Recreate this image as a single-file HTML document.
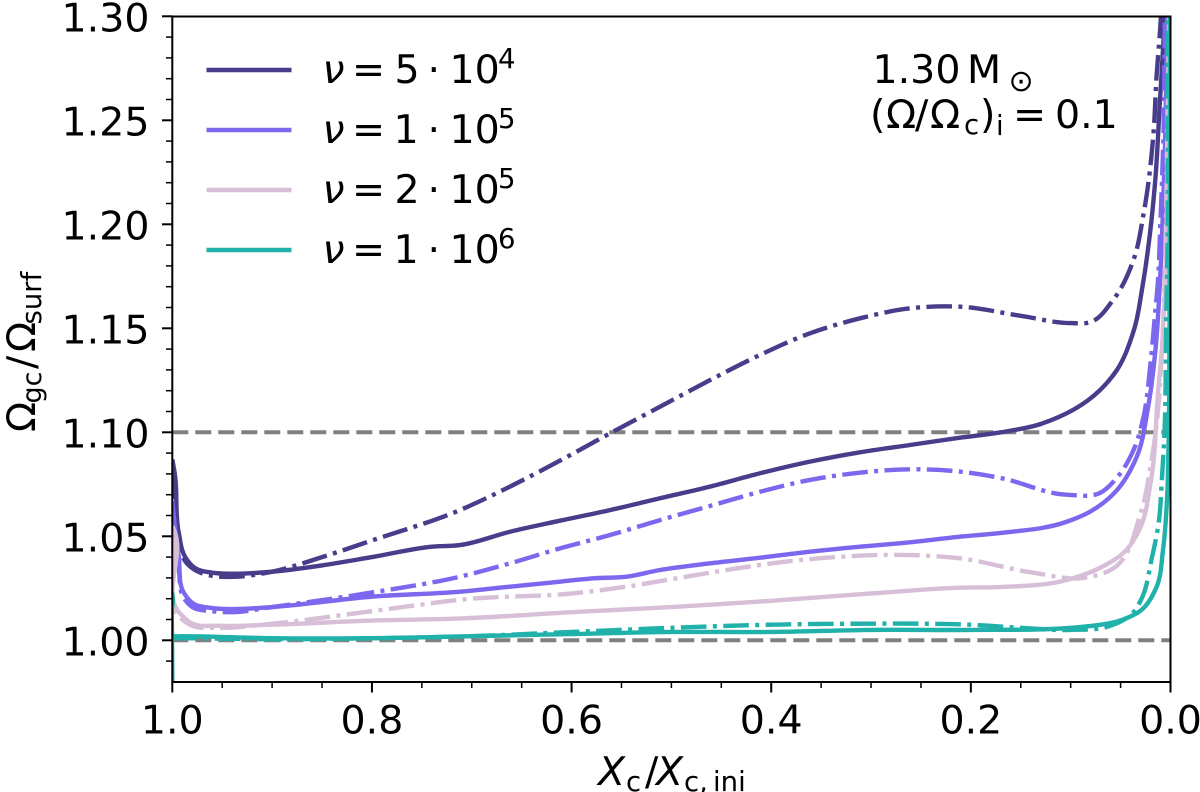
<!DOCTYPE html>
<html>
<head>
<meta charset="utf-8">
<title>Omega ratio chart</title>
<style>
html,body{margin:0;padding:0;background:#fff;width:1200px;height:792px;overflow:hidden}
svg{display:block}
text{font-family:"DejaVu Sans","Liberation Sans",sans-serif;fill:#000}
</style>
</head>
<body>
<svg id="chart" width="1200" height="792" viewBox="0 0 1200 792" xmlns="http://www.w3.org/2000/svg">
  <defs><clipPath id="plot-clip"><rect x="172.3" y="16.5" width="998.2" height="665.5"/></clipPath></defs>
  <g id="hlines" clip-path="url(#plot-clip)"></g>
  <g id="series" clip-path="url(#plot-clip)"></g>
  <g id="axes"></g>
  <g id="labels" font-size="39.5"></g>

  <g id="legend">
    <g font-size="39.5">
      <text y="83"><tspan x="322.5" font-style="italic">ν</tspan><tspan x="352">=</tspan><tspan x="394.5">5</tspan><tspan x="427.5">·</tspan><tspan x="449.5">10</tspan><tspan x="498" y="68" font-size="27.5">4</tspan></text>
      <text y="143"><tspan x="322.5" font-style="italic">ν</tspan><tspan x="352">=</tspan><tspan x="393.5">1</tspan><tspan x="427.5">·</tspan><tspan x="449.5">10</tspan><tspan x="498" y="128" font-size="27.5">5</tspan></text>
      <text y="203"><tspan x="322.5" font-style="italic">ν</tspan><tspan x="352">=</tspan><tspan x="394.5">2</tspan><tspan x="427.5">·</tspan><tspan x="449.5">10</tspan><tspan x="498" y="188" font-size="27.5">5</tspan></text>
      <text y="263"><tspan x="322.5" font-style="italic">ν</tspan><tspan x="352">=</tspan><tspan x="393.5">1</tspan><tspan x="427.5">·</tspan><tspan x="449.5">10</tspan><tspan x="498" y="248" font-size="27.5">6</tspan></text>
    </g>
    <line x1="206.5" x2="291.5" y1="70" y2="70" stroke="#483D8B" stroke-width="4.4"/>
    <line x1="206.5" x2="291.5" y1="130" y2="130" stroke="#7B68EE" stroke-width="4.4"/>
    <line x1="206.5" x2="291.5" y1="190" y2="190" stroke="#D8BFD8" stroke-width="4.4"/>
    <line x1="206.5" x2="291.5" y1="250" y2="250" stroke="#20B2AA" stroke-width="4.4"/>
  </g>

  <g font-size="39.5">
    <text y="83"><tspan x="872.5">1.30</tspan><tspan x="967">M</tspan><tspan x="1008.5" y="91" font-size="30">⊙</tspan></text>
    <text y="128"><tspan x="870">(</tspan><tspan x="886">Ω</tspan><tspan x="915">/</tspan><tspan x="930">Ω</tspan><tspan x="964" y="134" font-size="27.5">c</tspan><tspan x="980" y="128">)</tspan><tspan x="996" y="135" font-size="27.5">i</tspan><tspan x="1013" y="128">=</tspan><tspan x="1055">0.1</tspan></text>
  </g>

  <g font-size="39.5">
    <text y="785"><tspan x="598" font-style="italic">X</tspan><tspan x="626" y="791" font-size="27.5">c</tspan><tspan x="645" y="785">/</tspan><tspan x="656" font-style="italic">X</tspan><tspan x="684" y="791" font-size="27.5">c,</tspan><tspan x="713" font-size="27.5">ini</tspan></text>
  </g>
  <g transform="translate(35,0) rotate(-90)" font-size="39.5">
    <text y="0"><tspan x="-432">Ω</tspan><tspan x="-403.5" y="6" font-size="27">gc</tspan><tspan x="-369" y="0">/</tspan><tspan x="-352">Ω</tspan><tspan x="-324.5" y="6" font-size="27.5">surf</tspan></text>
  </g>
</svg>
<script>
// ---- axis ticks ----
const xMajorTicks = [1.0, 0.8, 0.6, 0.4, 0.2, 0.0];
const xTickLabels = ["1.0", "0.8", "0.6", "0.4", "0.2", "0.0"];
const xMinorTicks = [0.95,0.9,0.85,0.75,0.7,0.65,0.55,0.5,0.45,0.35,0.3,0.25,0.15,0.1,0.05];
const yMajorTicks = [1.00, 1.05, 1.10, 1.15, 1.20, 1.25, 1.30];
const yTickLabels = ["1.00", "1.05", "1.10", "1.15", "1.20", "1.25", "1.30"];
const yMinorTicks = [0.99,1.01,1.02,1.03,1.04,1.06,1.07,1.08,1.09,1.11,1.12,1.13,1.14,1.16,1.17,1.18,1.19,1.21,1.22,1.23,1.24,1.26,1.27,1.28,1.29];
const referenceLevels = [1.00, 1.10];

// ---- series values (Xc/Xc,ini and Omega_gc/Omega_surf) ----
const xSolid5e4 = [1.0,0.9975,0.9935,0.987,0.978,0.96,0.94,0.9,0.85,0.8,0.74,0.7118,0.6617,0.6116,0.5615,0.5114,0.4613,0.4112,0.3612,0.3111,0.261,0.2109,0.17,0.13,0.0706,0.0536,0.0376,0.0275,0.0205,0.0155,0.0105,0.0075,0.005];
const ySolid5e4 = [1.087,1.08,1.0516,1.04,1.035,1.0325,1.032,1.033,1.036,1.04,1.045,1.0458,1.0522,1.0575,1.0626,1.0683,1.0739,1.0803,1.0859,1.0904,1.0939,1.0974,1.1,1.104,1.1203,1.13,1.1477,1.1718,1.1958,1.2198,1.26,1.284,1.31];
const xDash5e4 = [1.0,0.9975,0.9935,0.987,0.978,0.96,0.94,0.9,0.85,0.8,0.7118,0.6617,0.6116,0.5615,0.5114,0.4613,0.4112,0.3612,0.3111,0.261,0.2109,0.15,0.1,0.08,0.0575,0.037,0.027,0.017,0.014,0.0105,0.007];
const yDash5e4 = [1.08,1.07,1.05,1.038,1.034,1.031,1.0305,1.033,1.04,1.048,1.0626,1.0739,1.0864,1.0995,1.1123,1.1251,1.1372,1.1476,1.1548,1.1596,1.1604,1.156,1.1525,1.153,1.1636,1.183,1.205,1.244,1.271,1.293,1.32];

const xSolid1e5 = [1.0,0.9975,0.9935,0.988,0.98,0.96,0.94,0.9,0.8,0.7118,0.6617,0.6116,0.5782,0.5448,0.5114,0.4613,0.4112,0.3612,0.3111,0.261,0.2109,0.17,0.104,0.08,0.054,0.034,0.0225,0.015,0.0105,0.006,0.003];
const ySolid1e5 = [1.067,1.055,1.04,1.0225,1.018,1.0155,1.015,1.016,1.021,1.0234,1.0258,1.0282,1.0298,1.0306,1.0338,1.037,1.0397,1.0426,1.045,1.0471,1.0498,1.0516,1.057,1.062,1.072,1.088,1.112,1.14,1.173,1.23,1.31];
const xDash1e5 = [1.0,0.9975,0.9935,0.988,0.98,0.96,0.94,0.9,0.8,0.7118,0.6617,0.6116,0.5615,0.5114,0.4613,0.4112,0.3612,0.3111,0.261,0.2109,0.17,0.104,0.07,0.054,0.037,0.027,0.0205,0.0155,0.0125,0.0105,0.007,0.0055];
const yDash1e5 = [1.06,1.05,1.035,1.02,1.016,1.014,1.0135,1.016,1.023,1.0306,1.037,1.0442,1.0506,1.0578,1.0646,1.0714,1.0771,1.0806,1.0822,1.0811,1.078,1.07,1.071,1.078,1.0915,1.1075,1.131,1.157,1.173,1.196,1.244,1.31];

const xSolid2e5 = [1.0,0.9975,0.9925,0.98,0.955,0.9,0.8,0.71,0.6,0.5,0.4,0.3,0.2109,0.17,0.104,0.07,0.044,0.03,0.02,0.0125,0.0085,0.0055,0.003,0.001];
const ySolid2e5 = [1.055,1.052,1.013,1.008,1.007,1.0075,1.0095,1.0105,1.0135,1.016,1.019,1.0225,1.0253,1.0256,1.029,1.035,1.0435,1.0545,1.0755,1.119,1.141,1.168,1.23,1.31];
const xDash2e5 = [1.0,0.9975,0.9925,0.98,0.955,0.9,0.8,0.7,0.6,0.5448,0.4948,0.4447,0.3945,0.3445,0.2944,0.261,0.2109,0.1375,0.0875,0.0575,0.03,0.02,0.0135,0.0085,0.0055,0.003,0.001];
const yDash2e5 = [1.05,1.045,1.011,1.007,1.006,1.008,1.014,1.02,1.0225,1.0258,1.0298,1.0338,1.0373,1.0397,1.041,1.041,1.0394,1.0325,1.03,1.0345,1.061,1.0835,1.106,1.141,1.18,1.25,1.31];

const xSolid1e6 = [1.0,0.9995,0.998,0.99,0.9,0.8,0.7,0.6,0.5,0.4,0.3,0.2,0.1,0.07,0.054,0.027,0.014,0.0075,0.0035,0.002,0.001,0.0005];
const ySolid1e6 = [0.98,1.02,1.002,1.002,1.001,1.001,1.002,1.003,1.004,1.004,1.005,1.005,1.006,1.0075,1.009,1.0155,1.0256,1.0434,1.0675,1.093,1.15,1.31];
const xDash1e6 = [1.0,0.998,0.99,0.9,0.8,0.7,0.6,0.5,0.4,0.3,0.25,0.2,0.15,0.1,0.06,0.037,0.03,0.0185,0.012,0.0085,0.0055,0.0048,0.0042,0.0035,0.0025,0.002];
const yDash1e6 = [1.001,1.001,1.001,1.0005,1.001,1.002,1.004,1.006,1.0075,1.008,1.008,1.0075,1.006,1.005,1.007,1.0135,1.019,1.04,1.056,1.0785,1.107,1.13,1.157,1.173,1.27,1.31];

const SVG_NS = "http://www.w3.org/2000/svg";
const sx = v => 1170.5 - v * 998.2;
const sy = v => 640.3 - (v - 1) * 2080;

function make(tag, parent) {
  const el = document.createElementNS(SVG_NS, tag);
  parent.appendChild(el);
  return el;
}
function curvePath(xs, ys) {
  const p = xs.map((x, i) => [sx(x), sy(ys[i])]);
  const dist = (a, b) => Math.hypot(a[0] - b[0], a[1] - b[1]) || 0.001;
  const tangent = i => {
    let dx, dy;
    if (i === 0) { dx = p[1][0] - p[0][0]; dy = p[1][1] - p[0][1]; }
    else if (i === p.length - 1) { dx = p[i][0] - p[i - 1][0]; dy = p[i][1] - p[i - 1][1]; }
    else {
      const d0 = dist(p[i], p[i - 1]), d1 = dist(p[i + 1], p[i]);
      const w0 = d1 / (d0 + d1), w1 = d0 / (d0 + d1);
      dx = (p[i][0] - p[i - 1][0]) / d0 * w0 + (p[i + 1][0] - p[i][0]) / d1 * w1;
      dy = (p[i][1] - p[i - 1][1]) / d0 * w0 + (p[i + 1][1] - p[i][1]) / d1 * w1;
    }
    const len = Math.hypot(dx, dy) || 1;
    return [dx / len, dy / len];
  };
  let d = "M" + p[0][0].toFixed(2) + " " + p[0][1].toFixed(2);
  for (let i = 0; i < p.length - 1; i++) {
    const s = dist(p[i + 1], p[i]) / 3;
    const t0 = tangent(i), t1 = tangent(i + 1);
    d += "C" + (p[i][0] + t0[0] * s).toFixed(2) + " " + (p[i][1] + t0[1] * s).toFixed(2) + " " +
      (p[i + 1][0] - t1[0] * s).toFixed(2) + " " + (p[i + 1][1] - t1[1] * s).toFixed(2) + " " +
      p[i + 1][0].toFixed(2) + " " + p[i + 1][1].toFixed(2);
  }
  return d;
}
function drawSeries(xs, ys, color, dashed, name) {
  const path = make("path", document.getElementById("series"));
  
  
  path.setAttribute("d", curvePath(xs, ys));
  path.setAttribute("fill", "none");
  path.setAttribute("stroke", color);
  path.setAttribute("stroke-width", "4.4");
  if (dashed) path.setAttribute("stroke-dasharray", "25.6 6.4 4 6.4");
}

referenceLevels.forEach(level => {
  const l = make("line", document.getElementById("hlines"));
  
  
  l.setAttribute("x1", 172.3);
  l.setAttribute("x2", 1170.5);
  l.setAttribute("y1", sy(level));
  l.setAttribute("y2", sy(level));
  l.setAttribute("stroke", "#808080");
  l.setAttribute("stroke-width", "4");
  l.setAttribute("stroke-dasharray", "16 7");
});

drawSeries(xSolid5e4, ySolid5e4, "#483D8B", false, "line-5e4-solid");
drawSeries(xDash5e4, yDash5e4, "#483D8B", true, "line-5e4-dashdot");
drawSeries(xSolid1e5, ySolid1e5, "#7B68EE", false, "line-1e5-solid");
drawSeries(xDash1e5, yDash1e5, "#7B68EE", true, "line-1e5-dashdot");
drawSeries(xSolid2e5, ySolid2e5, "#D8BFD8", false, "line-2e5-solid");
drawSeries(xDash2e5, yDash2e5, "#D8BFD8", true, "line-2e5-dashdot");
drawSeries(xSolid1e6, ySolid1e6, "#20B2AA", false, "line-1e6-solid");
drawSeries(xDash1e6, yDash1e6, "#20B2AA", true, "line-1e6-dashdot");

const axes = document.getElementById("axes");
const labels = document.getElementById("labels");
function tick(x1, y1, x2, y2, w, name) {
  const t = make("line", axes);
  
  
  t.setAttribute("x1", x1);
  t.setAttribute("y1", y1);
  t.setAttribute("x2", x2);
  t.setAttribute("y2", y2);
  t.setAttribute("stroke", "#000");
  t.setAttribute("stroke-width", w);
}
xMinorTicks.forEach(v => tick(sx(v), 682, sx(v), 688, 1.5, "x-minor-tick"));
yMinorTicks.forEach(v => tick(166, sy(v), 172.3, sy(v), 1.5, "y-minor-tick"));
xMajorTicks.forEach((v, i) => {
  tick(sx(v), 682, sx(v), 692.5, 2, "x-major-tick");
  const t = make("text", labels);
  
  
  t.setAttribute("x", sx(v));
  t.setAttribute("y", 733.5);
  t.setAttribute("text-anchor", "middle");
  t.textContent = xTickLabels[i];
});
yMajorTicks.forEach((v, i) => {
  tick(162, sy(v), 172.3, sy(v), 2, "y-major-tick");
  const t = make("text", labels);
  
  
  t.setAttribute("x", 149.5);
  t.setAttribute("y", sy(v) + 15);
  t.setAttribute("text-anchor", "end");
  t.textContent = yTickLabels[i];
});
const frame = make("rect", axes);


frame.setAttribute("x", 172.3);
frame.setAttribute("y", 16.5);
frame.setAttribute("width", 998.2);
frame.setAttribute("height", 665.5);
frame.setAttribute("fill", "none");
frame.setAttribute("stroke", "#000");
frame.setAttribute("stroke-width", "2");
</script>
</body>
</html>
